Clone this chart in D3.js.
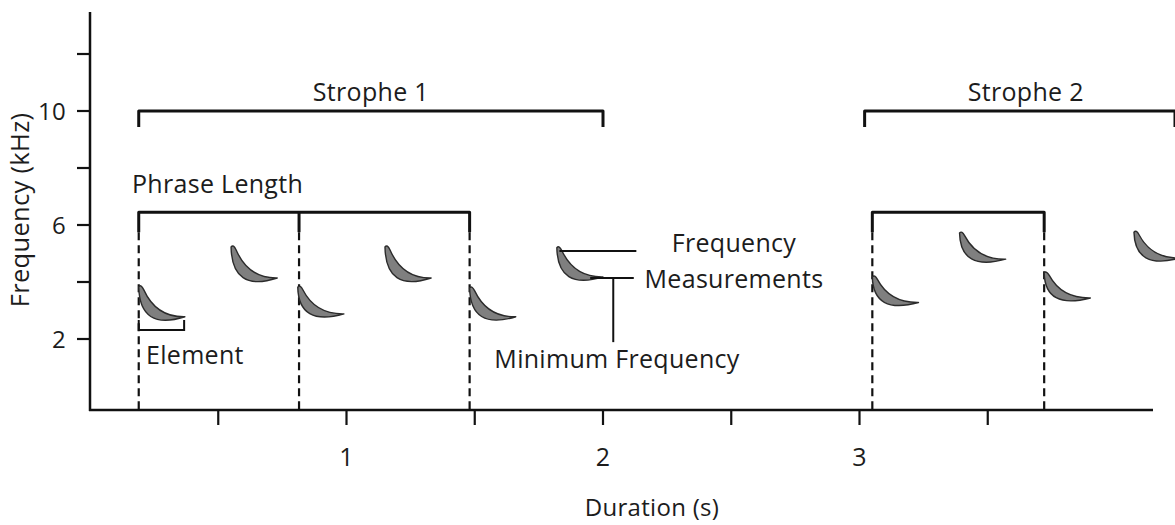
<!DOCTYPE html>
<html>
<head>
<meta charset="utf-8">
<script src="https://cdn.jsdelivr.net/npm/d3@7"></script>
<style>
  html, body { margin: 0; padding: 0; background: #fff; }
  svg text { font-family: "Open Sans", sans-serif; fill: #1c1c1c; letter-spacing: 0.3px; }
</style>
</head>
<body>
<div id="chart"></div>
<script>
// song elements: start (top) time/freq and tip (end) time/freq
const elemStart = [0.19, 0.55, 0.81, 1.15, 1.48, 1.82, 3.05, 3.39, 3.72, 4.07];
const elemTop   = [3.83, 5.23, 3.82, 5.23, 3.79, 5.20, 4.18, 5.72, 4.32, 5.75];
const elemEnd   = [0.37, 0.73, 0.99, 1.33, 1.66, 2.00, 3.23, 3.57, 3.90, 4.25];
const elemTip   = [2.78, 4.14, 2.88, 4.14, 2.78, 4.18, 3.28, 4.80, 3.44, 4.84];

// strophe brackets
const stropheNames = ["Strophe 1", "Strophe 2"];
const stropheStart = [0.19, 3.02];
const stropheEnd   = [2.00, 4.23];

// phrase brackets (boundaries), one group per strophe
const phraseBounds = [[0.19, 0.815, 1.48], [3.05, 3.72]];

const yTicks = [2, 4, 6, 8, 10, 12];
const yTickLabels = ["2", "", "6", "", "10", ""];
const xTicks = [0.5, 1, 1.5, 2, 2.5, 3, 3.5];
const xTickLabels = ["", "1", "", "2", "", "3", ""];

const width = 1175, height = 525;

const svg = d3.select("#chart").append("svg")
    .attr("width", width)
    .attr("height", height);

// scales
const x = d3.scaleLinear().domain([0, 1]).range([90, 346.5]);
const y = d3.scaleLinear().domain([2, 10]).range([339, 111]);
const axisY = 410;

// y axis
svg.append("line")
    .attr("x1", x(0)).attr("x2", x(0))
    .attr("y1", 12).attr("y2", axisY + 1)
    .attr("stroke", "#111").attr("stroke-width", 2.5);

svg.selectAll(".ytick")
    .data(yTicks)
    .enter().append("line")
    .attr("class", "ytick")
    .attr("x1", x(0) - 13).attr("x2", x(0))
    .attr("y1", d => y(d)).attr("y2", d => y(d))
    .attr("stroke", "#111").attr("stroke-width", 2.2);

svg.selectAll(".ylabel")
    .data(yTicks)
    .enter().append("text")
    .attr("class", "ylabel")
    .attr("x", x(0) - 24)
    .attr("y", d => y(d))
    .attr("dy", "0.36em")
    .attr("text-anchor", "end")
    .style("font-size", "24px")
    .text((d, i) => yTickLabels[i]);

svg.append("text")
    .attr("transform", "translate(29,210) rotate(-90)")
    .attr("text-anchor", "middle")
    .style("font-size", "25.5px")
    .text("Frequency (kHz)");

// x axis
svg.append("line")
    .attr("x1", x(0) - 1).attr("x2", 1153)
    .attr("y1", axisY).attr("y2", axisY)
    .attr("stroke", "#111").attr("stroke-width", 2.5);

svg.selectAll(".xtick")
    .data(xTicks)
    .enter().append("line")
    .attr("class", "xtick")
    .attr("x1", d => x(d)).attr("x2", d => x(d))
    .attr("y1", axisY).attr("y2", axisY + 15)
    .attr("stroke", "#111").attr("stroke-width", 2.2);

svg.selectAll(".xlabel")
    .data(xTicks)
    .enter().append("text")
    .attr("class", "xlabel")
    .attr("x", d => x(d))
    .attr("y", 466)
    .attr("text-anchor", "middle")
    .style("font-size", "25px")
    .text((d, i) => xTickLabels[i]);

svg.append("text")
    .attr("x", 652).attr("y", 516)
    .attr("text-anchor", "middle")
    .style("font-size", "24px")
    .text("Duration (s)");

// strophe brackets
const strophes = stropheNames.map((n, i) => ({ name: n, t0: stropheStart[i], t1: stropheEnd[i] }));
const bracketTop = y(10);

svg.selectAll(".strophe")
    .data(strophes)
    .enter().append("path")
    .attr("class", "strophe")
    .attr("d", d => `M${x(d.t0)},${bracketTop + 16} L${x(d.t0)},${bracketTop} L${x(d.t1)},${bracketTop} L${x(d.t1)},${bracketTop + 16}`)
    .attr("fill", "none")
    .attr("stroke", "#111").attr("stroke-width", 3)
    .attr("stroke-linejoin", "round");

svg.selectAll(".stropheLabel")
    .data(strophes)
    .enter().append("text")
    .attr("class", "stropheLabel")
    .attr("x", (d, i) => (x(d.t0) + x(d.t1)) / 2 + (i === 1 ? 6 : 0))
    .attr("y", bracketTop - 10)
    .attr("text-anchor", "middle")
    .style("font-size", "25px")
    .text(d => d.name);

// phrase brackets with dashed guides down to the axis
const phraseY = y(6.45);
phraseBounds.forEach(b => {
    svg.append("path")
        .attr("d", `M${x(b[0])},${phraseY + 20} L${x(b[0])},${phraseY} L${x(b[b.length - 1])},${phraseY} L${x(b[b.length - 1])},${phraseY + 20}`)
        .attr("fill", "none")
        .attr("stroke", "#111").attr("stroke-width", 3)
        .attr("stroke-linejoin", "round");
    b.slice(1, -1).forEach(t => {
        svg.append("line")
            .attr("x1", x(t)).attr("x2", x(t))
            .attr("y1", phraseY).attr("y2", phraseY + 20)
            .attr("stroke", "#111").attr("stroke-width", 3);
    });
    b.forEach(t => {
        svg.append("line")
            .attr("x1", x(t)).attr("x2", x(t))
            .attr("y1", phraseY + 20).attr("y2", axisY)
            .attr("stroke", "#111").attr("stroke-width", 2.2)
            .attr("stroke-dasharray", "8,5");
    });
});

svg.append("text")
    .attr("x", 132).attr("y", phraseY - 19)
    .style("font-size", "25px")
    .text("Phrase Length");

// elements (crescent shapes)
const elems = elemStart.map((t, i) => ({ t0: t, f0: elemTop[i], t1: elemEnd[i], f1: elemTip[i] }));

function crescent(d) {
    const x0 = x(d.t0), y0 = y(d.f0), x1 = x(d.t1), y1 = y(d.f1);
    const w = x1 - x0, h = y1 - y0;
    return `M${x0},${y0}` +
        ` Q${x0 + 0.02 * w},${y0 + 1.48 * h} ${x1},${y1}` +
        ` Q${x0 + 0.38 * w},${y0 + 1.02 * h} ${x0 + 0.11 * w},${y0 + 0.1 * h}` +
        ` Q${x0 + 0.05 * w},${y0 - 0.1 * h} ${x0},${y0} Z`;
}

svg.selectAll(".elem")
    .data(elems)
    .enter().append("path")
    .attr("class", "elem")
    .attr("d", crescent)
    .attr("fill", "#7f7f7f")
    .attr("stroke", "#2b2b2b").attr("stroke-width", 1.4)
    .attr("stroke-linejoin", "round");

// element bracket
const eb = { t0: elemStart[0], t1: 0.367, f: 2.32, fTop: 2.67 };
svg.append("path")
    .attr("d", `M${x(eb.t0)},${y(eb.fTop)} L${x(eb.t0)},${y(eb.f)} L${x(eb.t1)},${y(eb.f)} L${x(eb.t1)},${y(eb.fTop)}`)
    .attr("fill", "none")
    .attr("stroke", "#111").attr("stroke-width", 2);

svg.append("text")
    .attr("x", 146).attr("y", 364)
    .style("font-size", "25px")
    .text("Element");

// frequency measurement lines
const measureTime = [[1.83, 2.13], [1.95, 2.12]];
const measureFreq = [5.09, 4.14];
measureTime.forEach((tt, i) => {
    svg.append("line")
        .attr("x1", x(tt[0])).attr("x2", x(tt[1]))
        .attr("y1", y(measureFreq[i])).attr("y2", y(measureFreq[i]))
        .attr("stroke", "#111").attr("stroke-width", 2);
});
svg.append("line")
    .attr("x1", x(2.04)).attr("x2", x(2.04))
    .attr("y1", y(4.14)).attr("y2", y(1.89))
    .attr("stroke", "#111").attr("stroke-width", 2);

svg.append("text")
    .attr("x", 734).attr("y", 252)
    .attr("text-anchor", "middle")
    .style("font-size", "25px")
    .text("Frequency");
svg.append("text")
    .attr("x", 734).attr("y", 288)
    .attr("text-anchor", "middle")
    .style("font-size", "25px")
    .text("Measurements");
svg.append("text")
    .attr("x", 617).attr("y", 368)
    .attr("text-anchor", "middle")
    .style("font-size", "25px")
    .text("Minimum Frequency");
</script>
</body>
</html>
